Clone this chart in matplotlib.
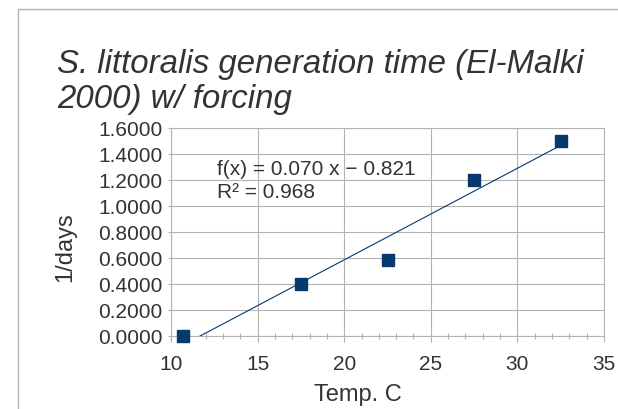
import numpy as np
import matplotlib
matplotlib.use("Agg")
import matplotlib.pyplot as plt
from matplotlib.patches import Rectangle
from matplotlib.ticker import MultipleLocator, FormatStrFormatter

plt.rcParams['font.family'] = ['Liberation Sans', 'DejaVu Sans']

# data
temp_c = [10.7, 17.5, 22.5, 27.5, 32.5]
inv_days = [0.0, 0.40, 0.583, 1.20, 1.50]

title_lines = ["S. littoralis generation time (El-Malki", "2000) w/ forcing"]
eq_lines = ["f(x) = 0.070 x \u2212 0.821", "R\u00b2 = 0.968"]

W, H = 618, 410
text_col = '#333333'
grid_col = '#b3b3b3'
series_col = '#063a6c'

fig = plt.figure(figsize=(W / 100, H / 100), dpi=100)

# outer frame of the chart object (only partly visible)
fig.patches.append(Rectangle((18 / W, -0.1), 1.2, 1 - 10 / H + 0.1, transform=fig.transFigure,
                             fill=False, edgecolor='#b3b3b3', linewidth=1.0))

# plot area in pixels: left 171, right 604, top 129, bottom 337
ax = fig.add_axes([171 / W, 1 - 337 / H, (604 - 171) / W, (337 - 129) / H])

# linear trend line, fitted to the data
slope, intercept = np.polyfit(temp_c, inv_days, 1)
xs = np.array([min(temp_c), max(temp_c)])
ax.plot(xs, slope * xs + intercept, color=series_col, linewidth=0.8, zorder=3)

ax.plot(temp_c, inv_days, linestyle='none', marker='s', markersize=9.2,
        color=series_col, zorder=4, clip_on=False)

ax.set_xlim(10, 35)
ax.set_ylim(0, 1.6)
ax.xaxis.set_major_locator(MultipleLocator(5))
ax.xaxis.set_minor_locator(MultipleLocator(1))
ax.yaxis.set_major_locator(MultipleLocator(0.2))
ax.yaxis.set_major_formatter(FormatStrFormatter('%.4f'))

ax.grid(True, which='major', color=grid_col, linewidth=0.8)
ax.set_axisbelow(True)
for s in ax.spines.values():
    s.set_color(grid_col)
    s.set_linewidth(0.8)

ax.tick_params(axis='x', which='major', direction='out', length=4, width=0.8,
               color=grid_col, labelsize=15, labelcolor=text_col, pad=9)
ax.tick_params(axis='x', which='minor', direction='inout', length=5, width=0.8,
               color=grid_col)
ax.tick_params(axis='y', which='major', direction='out', length=2, width=0.8,
               color=grid_col, labelsize=15, labelcolor=text_col, pad=4)

# equation of the trend line
fig.text(217 / W, 1 - 175 / H, eq_lines[0], fontsize=15, color=text_col, va='baseline')
fig.text(217 / W, 1 - 198 / H, eq_lines[1], fontsize=15, color=text_col, va='baseline')

# title
fig.text(57 / W, 1 - 73 / H, title_lines[0], fontsize=23.8, style='italic',
         color=text_col, va='baseline')
fig.text(57 / W, 1 - 108 / H, title_lines[1], fontsize=23.8, style='italic',
         color=text_col, va='baseline')

# axis titles
fig.text(65 / W, 1 - 247 / H, "1/days", fontsize=17, rotation=90, color=text_col,
         ha='center', va='center')
fig.text(358 / W, 1 - 401 / H, "Temp. C", fontsize=17, color=text_col,
         ha='center', va='baseline')

fig.savefig("out.png", dpi=100)
